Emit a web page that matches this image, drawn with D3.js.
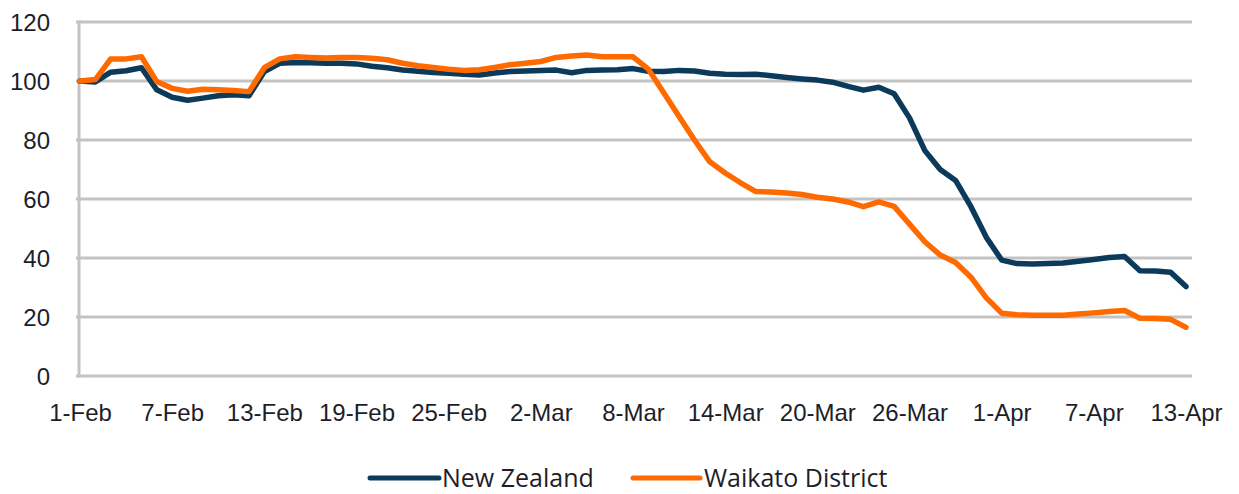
<!DOCTYPE html>
<html>
<head>
<meta charset="utf-8">
<script src="https://cdn.jsdelivr.net/npm/d3@7"></script>
<style>
  html, body { margin: 0; padding: 0; background: #fff; }
  svg { display: block; font-family: "Open Sans", "DejaVu Sans", sans-serif; }
</style>
</head>
<body>
<svg id="chart" width="1239" height="494"></svg>
<script>
// Daily index values, 1 Feb – 13 Apr 2020 (base = 100)
const startDate = "2020-02-01";
const newZealand = [
  100, 99.7, 103, 103.5, 104.5, 97, 94.5, 93.5, 94.2, 95, 95.3, 95,
  103.2, 106, 106.3, 106.2, 106, 106, 105.8, 105, 104.5, 103.7, 103.3, 102.9,
  102.6, 102.3, 102, 102.7, 103.2, 103.4, 103.6, 103.7, 102.8, 103.6, 103.7, 103.8,
  104.2, 103.3, 103.2, 103.6, 103.4, 102.6, 102.3, 102.2, 102.3, 101.8, 101.2, 100.7,
  100.3, 99.6, 98.2, 96.9, 97.9, 95.7, 87.5, 76.4, 70, 66.3, 57.4, 47,
  39.3, 38.1, 38, 38.1, 38.3, 38.9, 39.5, 40.2, 40.5, 35.7, 35.6, 35.2, 30.3
];
const waikato = [
  100, 100.5, 107.5, 107.5, 108.2, 99.8, 97.5, 96.5, 97.2, 97, 96.8, 96.4,
  104.5, 107.5, 108.2, 108, 107.8, 108, 108, 107.7, 107.2, 106, 105.2, 104.6,
  104, 103.6, 103.8, 104.6, 105.5, 106, 106.6, 108, 108.5, 108.8, 108.2, 108.2,
  108.2, 104, 96, 88, 80, 72.6, 68.8, 65.5, 62.5, 62.4, 62, 61.5,
  60.6, 60, 59, 57.4, 59, 57.5, 51.5, 45.5, 41, 38.5, 33.5, 26.5,
  21.3, 20.8, 20.6, 20.6, 20.6, 21, 21.4, 21.9, 22.2, 19.6, 19.5, 19.2, 16.5
];
const seriesNames = ["New Zealand", "Waikato District"];
const yTicks = [0, 20, 40, 60, 80, 100, 120];
const xTickLabels = ["1-Feb", "7-Feb", "13-Feb", "19-Feb", "25-Feb", "2-Mar", "8-Mar",
                     "14-Mar", "20-Mar", "26-Mar", "1-Apr", "7-Apr", "13-Apr"];

const colors = ["#0c3a5b", "#ff6a00"];
const gridColor = "#c3c3c3";
const textColor = "#1e1e2a";

const svg = d3.select("#chart");
const plot = { left: 80, right: 1186, top: 22, bottom: 376, gridRight: 1192 };

const parse = d3.timeParse("%Y-%m-%d");
const t0 = parse(startDate);
const dates = newZealand.map((_, i) => d3.timeDay.offset(t0, i));

const x = d3.scaleTime()
  .domain([dates[0], dates[dates.length - 1]])
  .range([plot.left, plot.right]);
const y = d3.scaleLinear().domain([0, 120]).range([plot.bottom, plot.top]);

// Horizontal gridlines
svg.append("g")
  .selectAll("line")
  .data(yTicks)
  .join("line")
  .attr("x1", plot.left - 4)
  .attr("x2", plot.gridRight)
  .attr("y1", d => y(d))
  .attr("y2", d => y(d))
  .attr("stroke", gridColor)
  .attr("stroke-width", 3);

// Vertical axis line
svg.append("line")
  .attr("x1", plot.left - 1).attr("x2", plot.left - 1)
  .attr("y1", y(120) - 1.5).attr("y2", y(0) + 1.5)
  .attr("stroke", gridColor)
  .attr("stroke-width", 3);

// Y axis labels
const yAxis = d3.axisLeft(y).tickValues(yTicks).tickSize(0).tickPadding(30);
const gy = svg.append("g").attr("transform", `translate(${plot.left},0)`).call(yAxis);
gy.select(".domain").remove();
gy.selectAll("text")
  .attr("fill", textColor)
  .style("font-size", "24px")
  .attr("dy", "0.37em");

// X axis labels, one every six days
const tickDates = xTickLabels.map((_, i) => d3.timeDay.offset(t0, i * 6));
const xAxis = d3.axisBottom(x)
  .tickValues(tickDates)
  .tickFormat((d, i) => xTickLabels[i])
  .tickSize(0)
  .tickPadding(28);
const gx = svg.append("g").attr("transform", `translate(0,${plot.bottom})`).call(xAxis);
gx.select(".domain").remove();
gx.selectAll("text")
  .attr("fill", textColor)
  .style("font-size", "24px");

// Series lines
const line = d3.line()
  .x((d, i) => x(dates[i]))
  .y(d => y(d));

[newZealand, waikato].forEach((values, k) => {
  svg.append("path")
    .datum(values)
    .attr("d", line)
    .attr("fill", "none")
    .attr("stroke", colors[k])
    .attr("stroke-width", 5.5)
    .attr("stroke-linejoin", "round")
    .attr("stroke-linecap", "round");
});

// Legend
const legendItems = [
  { name: seriesNames[0], color: colors[0], x0: 370, x1: 439, tx: 442 },
  { name: seriesNames[1], color: colors[1], x0: 633, x1: 700, tx: 704 }
];
const legendY = 478;
const lg = svg.append("g");
legendItems.forEach(it => {
  lg.append("line")
    .attr("x1", it.x0).attr("x2", it.x1)
    .attr("y1", legendY).attr("y2", legendY)
    .attr("stroke", it.color)
    .attr("stroke-width", 5)
    .attr("stroke-linecap", "round");
  lg.append("text")
    .attr("x", it.tx).attr("y", legendY)
    .attr("dy", "0.36em")
    .attr("fill", textColor)
    .style("font-size", "25px")
    .text(it.name);
});
</script>
</body>
</html>
